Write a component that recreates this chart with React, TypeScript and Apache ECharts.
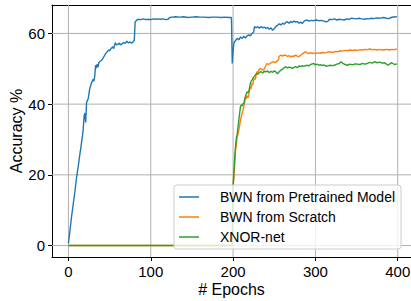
import React, { useEffect, useRef } from "react";
import * as echarts from "echarts";

const xTicks = [0, 100, 200, 300, 400];
const yTicks = [0, 20, 40, 60];
const seriesNames = ["BWN from Pretrained Model", "BWN from Scratch", "XNOR-net"];
const seriesColors = ["#1f77b4", "#ff7f0e", "#2ca02c"];

const pretrained: [number, number][] = [
  [0, 0.6], [2, 4.5], [4, 8.5], [6, 12], [8, 15.5], [10, 19.5], [12, 22.5], [14, 26], [15, 27.5], [17, 31],
  [18, 33], [19, 36.5], [20, 37.5], [21, 34.8], [22, 40.5], [24, 41.5], [26, 44.5], [28, 46], [30, 47], [31, 46.5],
  [32, 48], [33, 51], [34, 50.2], [35, 51.3], [36, 50.5], [37, 51.8], [39, 52.2], [41, 52.6], [43, 53.4], [45, 54.2],
  [47, 54.8], [49, 55.3], [50, 55.1], [52, 55.8], [54, 56.2], [55, 55.7], [56, 56.6], [57, 57.4], [58, 56.8], [60, 56.9],
  [62, 57.3], [63, 56.8], [65, 57], [67, 57.4], [69, 57.2], [71, 57.8], [73, 57.3], [75, 57.6], [77, 57.2], [79, 57.8],
  [80, 58], [81, 63.2], [83, 63.8], [85, 64], [88, 63.9], [91, 64.1], [94, 63.9], [97, 64], [100, 63.9], [103, 64.1],
  [106, 64], [109, 64.1], [112, 64], [115, 64.1], [118, 63.9], [121, 64], [123, 64.5], [126, 64.6], [130, 64.7], [135, 64.6],
  [140, 64.7], [145, 64.5], [150, 64.6], [155, 64.7], [160, 64.6], [165, 64.6], [170, 64.5], [175, 64.6], [180, 64.6], [185, 64.5],
  [190, 64.6], [195, 64.5], [198, 64.5], [199, 51.5], [200, 55], [201, 57.3], [203, 58], [205, 58.6], [207, 58.2], [209, 59],
  [211, 58.6], [213, 59.2], [215, 58.7], [217, 59.3], [219, 59.6], [221, 59.3], [223, 60], [225, 60.4], [226, 61.9], [228, 61.6],
  [230, 61.9], [232, 61.5], [234, 61.9], [236, 61.6], [238, 61.8], [240, 61.4], [242, 61.7], [244, 61.2], [246, 61.6], [248, 60.9],
  [250, 61.3], [252, 62], [254, 62.3], [256, 62.7], [258, 62.4], [260, 62.9], [262, 62.6], [264, 63.1], [266, 63.3], [268, 62.9],
  [270, 63.4], [272, 63.1], [274, 63.5], [276, 63.2], [278, 63.4], [280, 62.9], [282, 63.2], [284, 62.8], [286, 63.4], [288, 63.7],
  [290, 63.8], [292, 63.5], [295, 63.7], [298, 63.6], [301, 63.8], [304, 63.6], [307, 63.7], [310, 63.5], [313, 63.3], [315, 63.4],
  [317, 64], [320, 63.9], [323, 64.1], [326, 63.8], [329, 64], [332, 63.9], [335, 63.8], [338, 64.1], [341, 64], [344, 64.3],
  [347, 64.2], [350, 64.1], [353, 64.3], [356, 64.1], [359, 64], [362, 64.2], [365, 64.1], [368, 64.3], [371, 64.2], [374, 64.4],
  [377, 64.3], [380, 64.4], [383, 64.5], [386, 64.3], [389, 64.2], [392, 64.5], [395, 64.7], [397, 64.6], [399, 64.8],
];

const scratch: [number, number][] = [
  [0, 0], [199, 0], [200, 16.5], [201, 19], [202, 23], [203, 27], [204, 28.5], [205, 30.8], [206, 31.5], [207, 32.7],
  [208, 34], [209, 35.5], [210, 36.5], [211, 37.4], [212, 38.2], [213, 39.3], [214, 40.5], [215, 42.1], [216, 41.5], [217, 42.3],
  [218, 41.8], [219, 42.6], [220, 43.8], [221, 44.9], [222, 44.4], [223, 45.9], [224, 45.5], [225, 46.8], [226, 47.3], [227, 47],
  [228, 48.2], [229, 49.2], [230, 48.8], [231, 49.5], [232, 49.9], [233, 50.1], [235, 49.8], [237, 49.6], [239, 50.5], [241, 51.5],
  [243, 51.2], [245, 51.5], [247, 51.8], [249, 52], [251, 51.7], [253, 52.1], [255, 52.5], [256, 53.5], [258, 53.9], [260, 53.6],
  [262, 53.9], [264, 53.8], [266, 53.5], [268, 53.7], [270, 53.4], [272, 53.6], [274, 53.5], [276, 53.9], [278, 53.6], [280, 53.4],
  [282, 53.8], [284, 54.2], [286, 54.5], [288, 54.8], [290, 54.5], [292, 54.3], [294, 54.6], [296, 54.3], [298, 54.5], [300, 54.3],
  [303, 54.5], [306, 54.4], [309, 54.6], [312, 54.5], [315, 54.7], [318, 54.8], [321, 54.6], [324, 54.9], [327, 54.8], [330, 55.1],
  [333, 55], [336, 55.2], [339, 55.1], [342, 55.3], [345, 55.2], [348, 55.3], [351, 55.2], [354, 55.4], [357, 55.3], [360, 55.5],
  [363, 55.4], [366, 55.6], [369, 55.4], [372, 55.5], [375, 55.3], [378, 55.5], [381, 55.3], [384, 55.4], [387, 55.5], [390, 55.3],
  [393, 55.5], [396, 55.4], [399, 55.6],
];

const xnor: [number, number][] = [
  [0, 0], [199, 0], [200, 17], [201, 21], [202, 25], [203, 28], [204, 30.5], [205, 31.5], [206, 33.6], [207, 35.5],
  [208, 37.5], [209, 39.3], [210, 39.8], [211, 39.5], [212, 40.1], [213, 40.2], [214, 41.2], [215, 42.1], [216, 42.8], [217, 43.5],
  [218, 43.2], [219, 43.5], [220, 44.7], [221, 45.9], [222, 46.5], [223, 46.8], [224, 47.3], [225, 47.7], [226, 47.9], [227, 48.2],
  [228, 48.5], [229, 48.7], [230, 48.4], [232, 49], [234, 49.2], [236, 48.8], [238, 49.3], [240, 49.1], [242, 49.4], [244, 48.9],
  [246, 49.3], [248, 49], [250, 49.4], [252, 49.1], [254, 48.6], [256, 49.2], [258, 49.6], [260, 49.9], [262, 50.3], [264, 50.6],
  [266, 50.2], [268, 50.5], [270, 50.3], [272, 50.1], [274, 50.4], [276, 50.6], [278, 50.3], [280, 50.8], [282, 50.6], [284, 50.9],
  [286, 50.7], [288, 50.9], [290, 51], [292, 50.8], [294, 51.2], [296, 51.4], [298, 51.5], [300, 51.1], [302, 51.3], [304, 51],
  [306, 51.2], [308, 50.9], [310, 51.1], [312, 50.8], [315, 50.8], [318, 51], [321, 50.9], [323, 51], [326, 51.3], [329, 51.5],
  [331, 52], [333, 51.6], [336, 51.2], [339, 51], [342, 51.3], [345, 51.1], [348, 51.4], [351, 51.3], [354, 51.2], [357, 51.5],
  [360, 51.3], [363, 51.5], [366, 51.8], [369, 51.6], [372, 52], [375, 51.7], [378, 51.9], [381, 51.6], [384, 51.7], [386, 51.4],
  [388, 51], [390, 51.3], [392, 51.7], [394, 51.5], [396, 51.2], [399, 51.4],
];

const FONT = "'Liberation Sans', Arial, sans-serif";
const X_MIN = -19.95;
const X_MAX = 416.1;
const Y_MIN = -3.24;
const Y_MAX = 68.04;

export default function App() {
  const ref = useRef<HTMLDivElement>(null);
  useEffect(() => {
    document.body.style.margin = "0";
    const chart = echarts.init(ref.current!, null, { renderer: "svg" });
    const data = [pretrained, scratch, xnor];
    const tickLabel = (ticks: number[]) => (v: number) =>
      ticks.some((t) => Math.abs(t - v) < 1e-6) ? String(v) : "";
    const gridLineStyle = { color: "#b0b0b0", width: 1 };
    const gridSeries = [
      ...xTicks.map((t) => ({
        name: "xgrid" + t,
        type: "line",
        data: [[t, Y_MIN], [t, Y_MAX]],
        symbol: "none",
        silent: true,
        lineStyle: gridLineStyle,
        itemStyle: { color: "#b0b0b0" },
        z: 1,
      })),
      ...yTicks.map((t) => ({
        name: "ygrid" + t,
        type: "line",
        data: [[X_MIN, t], [X_MAX, t]],
        symbol: "none",
        silent: true,
        lineStyle: gridLineStyle,
        itemStyle: { color: "#b0b0b0" },
        z: 1,
      })),
    ];
    chart.setOption({
      animation: false,
      textStyle: { fontFamily: FONT },
      grid: {
        left: 52,
        top: 5,
        right: 0,
        bottom: 44,
        show: false,
        outerBoundsMode: "none",
        containLabel: false,
      },
      xAxis: [
        {
          type: "value",
          min: X_MIN,
          max: X_MAX,
          splitNumber: 5,
          position: "bottom",
          name: "# Epochs",
          nameLocation: "middle",
          nameGap: 24,
          nameMoveOverlap: false,
          nameTextStyle: { fontSize: 16, color: "#000", fontFamily: FONT },
          axisLine: { show: true, onZero: false, lineStyle: { color: "#000", width: 1 } },
          axisTick: { show: true, length: 4, lineStyle: { color: "#000" } },
          axisLabel: {
            fontSize: 15,
            color: "#000",
            margin: 7,
            fontFamily: FONT,
            showMinLabel: false,
            showMaxLabel: false,
            formatter: tickLabel(xTicks),
          },
          splitLine: { show: false },
        },
        {
          type: "value",
          min: X_MIN,
          max: X_MAX,
          position: "top",
          axisLine: { show: true, onZero: false, lineStyle: { color: "#000", width: 1 } },
          axisTick: { show: false },
          axisLabel: { show: false },
          splitLine: { show: false },
        },
      ],
      yAxis: {
        type: "value",
        min: Y_MIN,
        max: Y_MAX,
        splitNumber: 4,
        position: "left",
        name: "Accuracy %",
        nameLocation: "middle",
        nameGap: 28,
        nameMoveOverlap: false,
        nameTextStyle: { fontSize: 16, color: "#000", fontFamily: FONT },
        axisLine: { show: true, onZero: false, lineStyle: { color: "#000", width: 1 } },
        axisTick: { show: true, length: 4, lineStyle: { color: "#000" } },
        axisLabel: {
          fontSize: 15,
          color: "#000",
          margin: 7,
          fontFamily: FONT,
          showMinLabel: false,
          showMaxLabel: false,
          formatter: tickLabel(yTicks),
        },
        splitLine: { show: false },
      },
      legend: {
        show: true,
        orient: "vertical",
        left: 174,
        top: 185,
        z: 10,
        align: "left",
        icon: "rect",
        itemWidth: 20,
        itemHeight: 1.5,
        itemGap: 6,
        padding: [5, 6, 5, 5],
        backgroundColor: "rgba(255,255,255,0.8)",
        borderColor: "#cccccc",
        borderWidth: 1,
        borderRadius: 3,
        textStyle: { fontSize: 14, color: "#000", fontFamily: FONT, padding: [0, 0, 0, 16] },
        data: seriesNames,
      },
      series: [
        ...gridSeries,
        ...seriesNames.map((name, i) => ({
          name,
          type: "line",
          data: data[i],
          symbol: "none",
          showSymbol: false,
          color: seriesColors[i],
          itemStyle: { color: seriesColors[i] },
          lineStyle: { width: 1.4, color: seriesColors[i] },
          z: 3 + i,
        })),
      ],
    });
    return () => chart.dispose();
  }, []);
  return <div ref={ref} style={{ width: 411, height: 301 }} />;
}
